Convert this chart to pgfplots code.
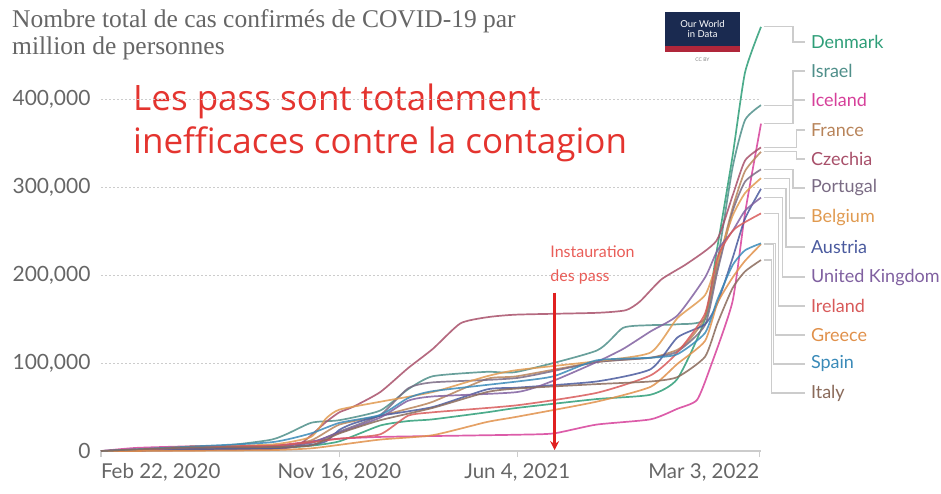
\documentclass[border=0pt]{standalone}
\usepackage{pgfplots}
\pgfplotsset{compat=1.18}
\usepackage{fontspec}
\setmainfont{Lato}
\newfontfamily\titlefont{Liberation Serif}
\newfontfamily\redfont{Open Sans}
\usetikzlibrary{arrows.meta}
\definecolor{cDK}{HTML}{2E9E78}
\definecolor{cIL}{HTML}{4F8F8A}
\definecolor{cIS}{HTML}{D6409A}
\definecolor{cFR}{HTML}{B8845A}
\definecolor{cCZ}{HTML}{A8506A}
\definecolor{cPT}{HTML}{7A6B84}
\definecolor{cBE}{HTML}{E09A50}
\definecolor{cAT}{HTML}{4A5A9E}
\definecolor{cUK}{HTML}{8060A0}
\definecolor{cIE}{HTML}{D85A5A}
\definecolor{cGR}{HTML}{E0904A}
\definecolor{cES}{HTML}{3A8AB8}
\definecolor{cIT}{HTML}{8A6A5A}
\definecolor{tgray}{HTML}{666666}
\definecolor{bigred}{HTML}{E4342F}
\definecolor{conn}{HTML}{CCCCCC}
\definecolor{navy}{HTML}{1A2A50}
\definecolor{logored}{HTML}{B0263A}
\definecolor{arrowred}{HTML}{E02020}
\begin{document}
\begin{tikzpicture}
\useasboundingbox (0,0) rectangle (941pt,493pt);
% title
\node[anchor=base west, align=left, text=tgray, inner sep=0pt, font=\titlefont\fontsize{25.5}{27}\selectfont] at (12pt,438pt)
  {Nombre total de cas confirmés de COVID-19 par\\ million de personnes};
% logo
\fill[navy] (665pt,441pt) rectangle (740pt,481pt);
\fill[logored] (665pt,441pt) rectangle (740pt,447pt);
\node[text=white, align=center, inner sep=0pt, font=\fontsize{9.5}{10.5}\selectfont] at (702.5pt,464pt) {Our World\\in Data};
\node[text=gray, inner sep=0pt, font=\fontsize{5}{5}\selectfont] at (702.5pt,433pt) {CC BY};
% big red text
\node[anchor=base west, align=left, text=bigred, inner sep=0pt, font=\redfont\fontsize{35}{43}\selectfont] at (133pt,339pt)
  {Les pass sont totalement\\ inefficaces contre la contagion};
\begin{axis}[
  at={(101pt,42pt)}, anchor=south west,
  scale only axis, width=660pt, height=422.4pt,
  xmin=0, xmax=742, ymin=0, ymax=480000,
  clip=false,
  axis lines*=left,
  y axis line style={draw=none},
  x axis line style={draw=conn, line width=1.6pt},
  ytick={0,100000,200000,300000,400000},
  yticklabels={0,{100,000},{200,000},{300,000},{400,000}},
  scaled y ticks=false,
  ytick style={draw=none},
  ymajorgrids,
  major grid style={draw=conn, line width=0.9pt, dash pattern=on 2pt off 2pt},
  xtick={0,268,468,740},
  xticklabels={{\rlap{Feb 22, 2020}},{Nov 16, 2020},{Jun 4, 2021},{\llap{Mar 3, 2022}}},
  xtick style={draw=conn, line width=1.2pt},
  tick align=outside, major tick length=6pt,
  yticklabel style={text=tgray, font=\fontsize{21}{23}\selectfont, xshift=-1pt},
  xticklabel style={text=tgray, font=\fontsize{20.5}{22}\selectfont, yshift=-3pt},
  every axis plot/.append style={line width=1.7pt, smooth, tension=0.35, no marks, opacity=0.85},
]
% Denmark
\addplot[cDK] coordinates {(0,0)(39,500)(100,2000)(192,3000)(236,6000)(268,11000)(314,29000)(345,34000)(373,36000)(434,44000)(468,49000)(557,59000)(618,64000)(648,82000)(679,150000)(693,232000)(710,335000)(724,430000)(742,482000)};
% Israel
\addplot[cIL] coordinates {(0,0)(39,700)(100,2000)(192,13000)(236,32000)(268,35000)(314,46000)(345,70000)(373,85000)(434,90000)(468,90000)(557,114000)(587,140000)(618,143000)(648,144000)(679,150000)(693,215000)(710,322000)(724,376000)(742,393000)};
% Iceland
\addplot[cIS] coordinates {(0,0)(39,3500)(100,5300)(192,6000)(236,11000)(268,14000)(314,16000)(373,17000)(468,18500)(509,20000)(557,30000)(618,36000)(648,48000)(670,58000)(685,95000)(710,170000)(724,270000)(742,372000)};
% France
\addplot[cFR] coordinates {(0,0)(39,800)(100,2300)(192,4300)(236,12000)(268,30000)(314,40000)(345,48000)(373,56000)(434,82000)(468,85000)(557,101000)(618,106000)(648,115000)(662,127000)(679,152000)(693,209000)(710,276000)(724,318000)(742,340000)};
% Czechia
\addplot[cCZ] coordinates {(0,0)(39,300)(100,900)(192,2300)(222,6500)(253,33000)(268,44000)(283,50000)(314,67000)(345,94000)(373,116000)(404,145000)(434,152000)(468,155000)(557,157000)(590,160000)(606,170000)(630,195000)(659,213000)(692,239000)(710,290000)(724,330000)(742,345000)};
% Portugal
\addplot[cPT] coordinates {(0,0)(39,800)(100,3000)(192,5600)(236,9000)(268,22000)(314,41000)(345,71000)(373,78000)(468,83000)(557,101000)(618,106000)(648,113000)(679,143000)(693,204000)(710,272000)(724,306000)(742,320000)};
% Belgium
\addplot[cBE] coordinates {(0,0)(39,1100)(100,5000)(192,7400)(236,16000)(253,37000)(268,47000)(314,56000)(373,67000)(434,85000)(468,92000)(557,102000)(618,112000)(648,151000)(679,177000)(693,216000)(710,267000)(724,293000)(742,310000)};
% Austria
\addplot[cAT] coordinates {(0,0)(39,1200)(100,1900)(192,3000)(236,7000)(253,11000)(268,24000)(283,31000)(314,40000)(373,50000)(434,70000)(468,72000)(557,79000)(618,93000)(648,129000)(679,144000)(693,168000)(710,219000)(724,264000)(742,298000)};
% United Kingdom
\addplot[cUK] coordinates {(0,0)(39,400)(100,4000)(192,5000)(236,10000)(268,21000)(314,38000)(345,57000)(373,62000)(468,67000)(509,80000)(557,101000)(587,116000)(618,136000)(648,154000)(679,197000)(693,228000)(710,250000)(724,273000)(742,288000)};
% Ireland
\addplot[cIE] coordinates {(0,0)(39,800)(100,5000)(192,6000)(236,10000)(268,14000)(314,19000)(345,40000)(373,44000)(468,52000)(557,66000)(618,86000)(648,112000)(679,156000)(693,220000)(710,250000)(724,260000)(742,270000)};
% Greece
\addplot[cGR] coordinates {(0,0)(39,100)(100,300)(192,1000)(236,3000)(268,7000)(314,13000)(373,18000)(434,33000)(468,39000)(557,56000)(618,73000)(648,99000)(679,125000)(693,168000)(710,197000)(724,216000)(742,235000)};
% Spain
\addplot[cES] coordinates {(0,0)(39,2000)(100,5000)(192,10000)(236,20000)(268,32000)(314,41000)(345,60000)(373,68000)(468,79000)(509,85000)(557,103000)(618,106000)(648,110000)(679,134000)(693,172000)(710,211000)(724,228000)(742,236000)};
% Italy
\addplot[cIT] coordinates {(0,0)(39,1800)(100,3900)(192,4500)(236,6300)(268,20000)(314,35000)(373,49000)(434,67000)(468,71000)(557,76000)(618,79000)(648,84000)(679,107000)(693,145000)(710,185000)(724,204000)(742,217000)};
% arrow
\draw[arrowred, line width=2.6pt, -{Stealth[length=9pt,width=9pt]}] (axis cs:510,180000) -- (axis cs:510,1000);
\node[anchor=west, align=left, text=bigred!80, inner sep=0pt, font=\fontsize{16}{24}\selectfont] at (axis cs:505,211000) {Instauration\\des pass};
% connectors
\draw[conn, line width=1.2pt] (axis cs:745,482000) -- (axis cs:778,482000) |- (axis cs:791,464800);
\draw[conn, line width=1.2pt] (axis cs:745,393000) -- (axis cs:778,393000) |- (axis cs:791,431800);
\draw[conn, line width=1.2pt] (axis cs:745,372000) -- (axis cs:778,372000) |- (axis cs:791,398900);
\draw[conn, line width=1.2pt] (axis cs:745,345000) -- (axis cs:782,345000) |- (axis cs:791,364800);
\draw[conn, line width=1.2pt] (axis cs:745,340000) -- (axis cs:782,340000) |- (axis cs:791,331800);
\draw[conn, line width=1.2pt] (axis cs:745,320000) -- (axis cs:778,320000) |- (axis cs:791,298900);
\draw[conn, line width=1.2pt] (axis cs:745,310000) -- (axis cs:774,310000) |- (axis cs:791,264800);
\draw[conn, line width=1.2pt] (axis cs:745,298000) -- (axis cs:770,298000) |- (axis cs:791,231800);
\draw[conn, line width=1.2pt] (axis cs:745,288000) -- (axis cs:766,288000) |- (axis cs:791,197700);
\draw[conn, line width=1.2pt] (axis cs:745,270000) -- (axis cs:762,270000) |- (axis cs:791,164800);
\draw[conn, line width=1.2pt] (axis cs:745,236000) -- (axis cs:758,236000) |- (axis cs:791,131800);
\draw[conn, line width=1.2pt] (axis cs:745,235000) -- (axis cs:756,235000) |- (axis cs:791,98900);
\draw[conn, line width=1.2pt] (axis cs:745,217000) -- (axis cs:754,217000) |- (axis cs:791,65900);
% labels
\begin{scope}[every node/.style={anchor=west, inner sep=0pt, font=\fontsize{18}{20}\selectfont}]
\node[text=cDK] at (axis cs:798,464800) {Denmark};
\node[text=cIL] at (axis cs:798,431800) {Israel};
\node[text=cIS] at (axis cs:798,398900) {Iceland};
\node[text=cFR] at (axis cs:798,364800) {France};
\node[text=cCZ] at (axis cs:798,331800) {Czechia};
\node[text=cPT] at (axis cs:798,298900) {Portugal};
\node[text=cBE] at (axis cs:798,264800) {Belgium};
\node[text=cAT] at (axis cs:798,231800) {Austria};
\node[text=cUK] at (axis cs:798,197700) {United Kingdom};
\node[text=cIE] at (axis cs:798,164800) {Ireland};
\node[text=cGR] at (axis cs:798,131800) {Greece};
\node[text=cES] at (axis cs:798,98900) {Spain};
\node[text=cIT] at (axis cs:798,65900) {Italy};
\end{scope}
\end{axis}
\end{tikzpicture}
\end{document}
